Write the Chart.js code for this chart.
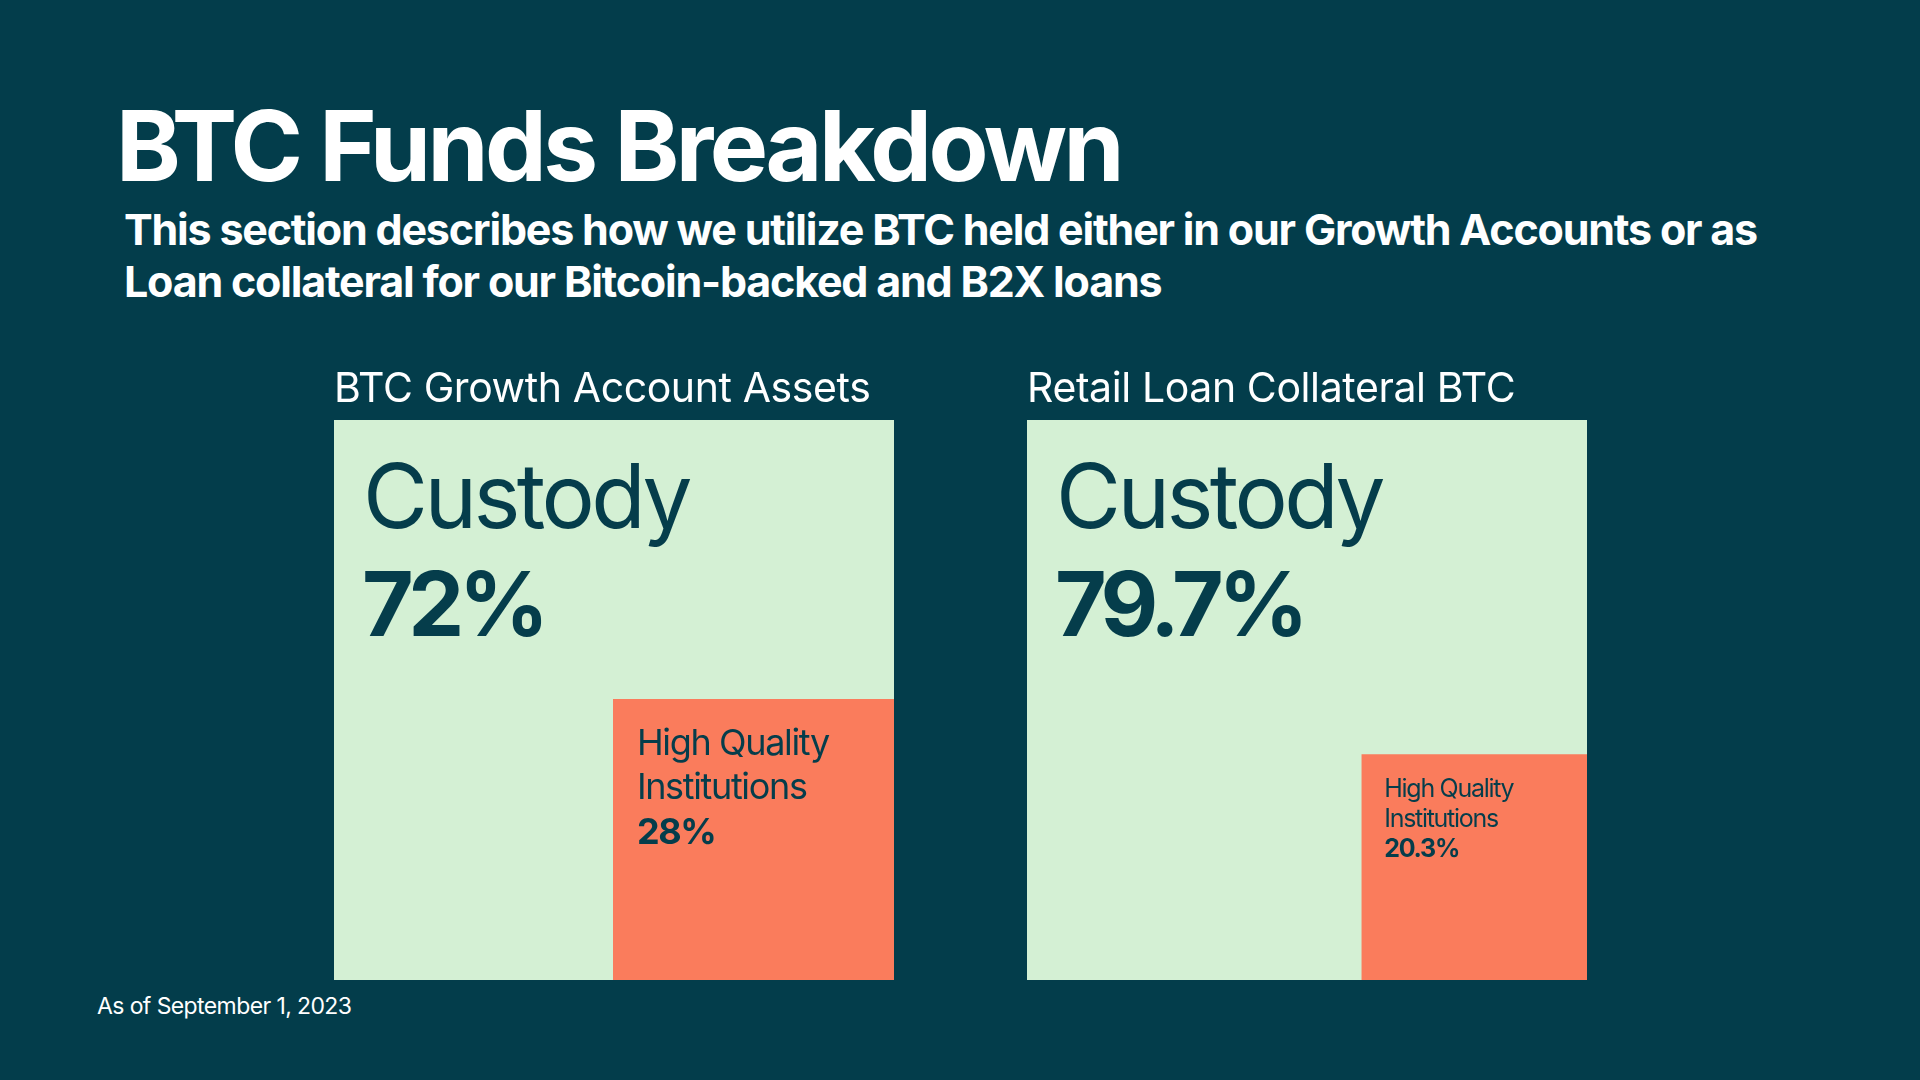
<!DOCTYPE html>
<html>
<head>
<meta charset="utf-8">
<title>BTC Funds Breakdown</title>
<script src="https://cdn.jsdelivr.net/npm/chart.js@4.4.0/dist/chart.umd.min.js"></script>
<style>
  body { margin: 0; width: 1920px; height: 1080px; background: #033d4b; font-family: Inter, sans-serif; color: #fff; position: relative; overflow: hidden; }
  h1 { position: absolute; left: 116px; top: 97px; margin: 0; font-size: 98px; line-height: 1; font-weight: 700; letter-spacing: -3.5px; white-space: nowrap; }
  .sub { position: absolute; left: 124px; top: 203px; margin: 0; font-size: 43px; line-height: 52px; font-weight: 700; letter-spacing: -1.2px; white-space: nowrap; }
  .note { position: absolute; left: 97px; top: 995px; font-size: 23px; line-height: 1; letter-spacing: -0.6px; }
  .panel { position: absolute; top: 360px; width: 560px; height: 620px; }
</style>
</head>
<body>
<h1>BTC Funds Breakdown</h1>
<p class="sub">This section describes how we utilize BTC held either in our Growth Accounts or as<br>Loan collateral for our Bitcoin-backed and B2X loans</p>
<div class="panel" style="left:334px"><canvas id="growth"></canvas></div>
<div class="panel" style="left:1027px"><canvas id="retail"></canvas></div>
<div class="note">As of September 1, 2023</div>

<script>
// data
const panelTitles = ['BTC Growth Account Assets', 'Retail Loan Collateral BTC'];
const custodyLabel = 'Custody';
const hqiLabel = ['High Quality', 'Institutions'];
const custodyShare = [72, 79.7];
const hqiShare = [28, 20.3];
// side of the orange square, in % of the panel side (as drawn on the slide)
const hqiSide = [50.2, 40.3];

const ink = '#053d4b';
const green = '#d4f0d4';
const orange = '#fa7c5c';

const panelText = {
    id: 'panelText',
    afterDatasetsDraw(chart, args, opts) {
        const { ctx, chartArea: a, scales: { x, y } } = chart;
        const i = opts.index;
        ctx.save();
        ctx.textAlign = 'left';
        ctx.textBaseline = 'alphabetic';

        ctx.fillStyle = '#fff';
        ctx.font = '400 41px Inter';
        ctx.letterSpacing = '-0.4px';
        ctx.fillText(panelTitles[i], a.left, a.top - 18);

        ctx.fillStyle = ink;
        ctx.font = '400 89px Inter';
        ctx.letterSpacing = '-3.6px';
        ctx.fillText(custodyLabel, a.left + 29, a.top + 108);
        ctx.font = '700 89px Inter';
        ctx.letterSpacing = '-5.5px';
        ctx.fillText(custodyShare[i] + '%', a.left + 28, a.top + 216);

        const ox = x.getPixelForValue(100 - hqiSide[i]);
        const oy = y.getPixelForValue(hqiSide[i]);
        const s = opts.small;
        ctx.font = '400 ' + s.size + 'px Inter';
        ctx.letterSpacing = s.spacing;
        ctx.fillText(hqiLabel[0], ox + s.pad, oy + s.first);
        ctx.fillText(hqiLabel[1], ox + s.pad, oy + s.first + s.lh);
        ctx.font = '700 ' + s.size + 'px Inter';
        ctx.fillText(hqiShare[i] + '%', ox + s.pad, oy + s.first + 2 * s.lh);
        ctx.restore();
    }
};

function makePanel(id, i, small) {
    const side = hqiSide[i];
    new Chart(document.getElementById(id).getContext('2d'), {
        type: 'line',
        data: {
            datasets: [{
                label: 'High Quality Institutions',
                data: [{ x: 100 - side, y: side }, { x: 100, y: side }],
                backgroundColor: orange,
                borderWidth: 0,
                pointRadius: 0,
                fill: 'origin',
                order: 0
            }, {
                label: 'Custody',
                data: [{ x: 0, y: 100 }, { x: 100, y: 100 }],
                backgroundColor: green,
                borderWidth: 0,
                pointRadius: 0,
                fill: 'origin',
                order: 1
            }]
        },
        options: {
            responsive: true,
            maintainAspectRatio: false,
            animation: false,
            layout: { padding: { top: 60, left: 0, right: 0, bottom: 0 } },
            plugins: {
                legend: { display: false },
                tooltip: { enabled: false },
                panelText: { index: i, small: small }
            },
            scales: {
                x: { type: 'linear', min: 0, max: 100, display: false },
                y: { type: 'linear', min: 0, max: 100, display: false }
            }
        },
        plugins: [panelText]
    });
}

makePanel('growth', 0, { size: 36, lh: 44.5, first: 56, pad: 24, spacing: '-1.35px' });
makePanel('retail', 1, { size: 25, lh: 30, first: 43, pad: 23, spacing: '-1.3px' });
</script>
</body>
</html>
